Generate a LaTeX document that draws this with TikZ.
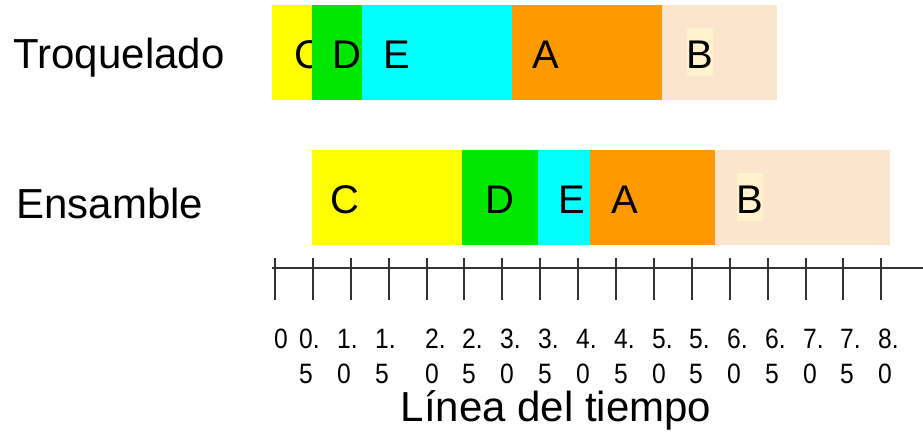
\documentclass[tikz,border=0pt]{standalone}
\usepackage{fontspec}
\setmainfont{Liberation Sans}
\newfontfamily\narrowsans[FakeStretch=0.88]{Liberation Sans}

\definecolor{barC}{RGB}{255,255,0}
\definecolor{barD}{RGB}{0,230,0}
\definecolor{barE}{RGB}{0,255,255}
\definecolor{barA}{RGB}{255,153,0}
\definecolor{barB}{RGB}{252,229,205}
\definecolor{hiB}{RGB}{255,242,204}

\tikzset{
  rowlbl/.style={font=\fontsize{42}{50}\selectfont, anchor=west},
  tasklbl/.style={font=\fontsize{40}{48}\selectfont, inner sep=0pt},
  hilbl/.style={tasklbl, fill=hiB, text height=41pt, text depth=7pt, anchor=base},
  ticklbl/.style={font=\narrowsans\fontsize{28}{35}\selectfont, align=left, inner sep=0pt, anchor=north west},
  axis/.style={line width=1.3pt, black!80}
}

\begin{document}
\begin{tikzpicture}[x=1pt,y=-1pt]
\useasboundingbox (0,0) rectangle (923,435);
% Troquelado
\node [rowlbl] (troq) at (10,58) {Troquelado};
\fill [barC] (272,5) rectangle (312,100); \node [tasklbl] (tC) at (309,55) {C};
\fill [barD] (312,5) rectangle (362,100); \node [tasklbl] (tD) at (347,55) {D};
\fill [barE] (362,5) rectangle (512,100); \node [tasklbl] (tE) at (397,55) {E};
\fill [barA] (512,5) rectangle (662,100); \node [tasklbl] (tA) at (546,55) {A};
\fill [barB] (662,5) rectangle (777,100); \node [hilbl] (tB) at (700,69) {B};
% Ensamble
\node [rowlbl] (ens) at (13,203) {Ensamble};
\fill [barC] (312,150) rectangle (462,245); \node [tasklbl] (eC) at (345,200) {C};
\fill [barD] (462,150) rectangle (538,245); \node [tasklbl] (eD) at (500,200) {D};
\fill [barE] (538,150) rectangle (590,245); \node [tasklbl] (eE) at (572,200) {E};
\fill [barA] (590,150) rectangle (715,245); \node [tasklbl] (eA) at (625,200) {A};
\fill [barB] (715,150) rectangle (890,245); \node [hilbl] (eB) at (750,214) {B};
% linea del tiempo
\draw [axis] (272,268) -- (923,268);
\draw [axis] (275,258) -- (275,300); \node [ticklbl] (t00) at (274,329) {0};
\draw [axis] (313,258) -- (313,300); \node [ticklbl] (t05) at (299,329) {0.\\5};
\draw [axis] (351,258) -- (351,300); \node [ticklbl] (t10) at (337,329) {1.\\0};
\draw [axis] (389,258) -- (389,300); \node [ticklbl] (t15) at (375,329) {1.\\5};
\draw [axis] (427,258) -- (427,300); \node [ticklbl] (t20) at (425,329) {2.\\0};
\draw [axis] (464,258) -- (464,300); \node [ticklbl] (t25) at (462,329) {2.\\5};
\draw [axis] (502,258) -- (502,300); \node [ticklbl] (t30) at (500,329) {3.\\0};
\draw [axis] (540,258) -- (540,300); \node [ticklbl] (t35) at (538,329) {3.\\5};
\draw [axis] (578,258) -- (578,300); \node [ticklbl] (t40) at (576,329) {4.\\0};
\draw [axis] (616,258) -- (616,300); \node [ticklbl] (t45) at (614,329) {4.\\5};
\draw [axis] (654,258) -- (654,300); \node [ticklbl] (t50) at (652,329) {5.\\0};
\draw [axis] (692,258) -- (692,300); \node [ticklbl] (t55) at (689,329) {5.\\5};
\draw [axis] (730,258) -- (730,300); \node [ticklbl] (t60) at (727,329) {6.\\0};
\draw [axis] (768,258) -- (768,300); \node [ticklbl] (t65) at (765,329) {6.\\5};
\draw [axis] (806,258) -- (806,300); \node [ticklbl] (t70) at (803,329) {7.\\0};
\draw [axis] (843,258) -- (843,300); \node [ticklbl] (t75) at (840,329) {7.\\5};
\draw [axis] (881,258) -- (881,300); \node [ticklbl] (t80) at (878,329) {8.\\0};
\node [font=\fontsize{42}{50}\selectfont] (tiempo) at (556,410) {Línea del tiempo};
\end{tikzpicture}
\end{document}
